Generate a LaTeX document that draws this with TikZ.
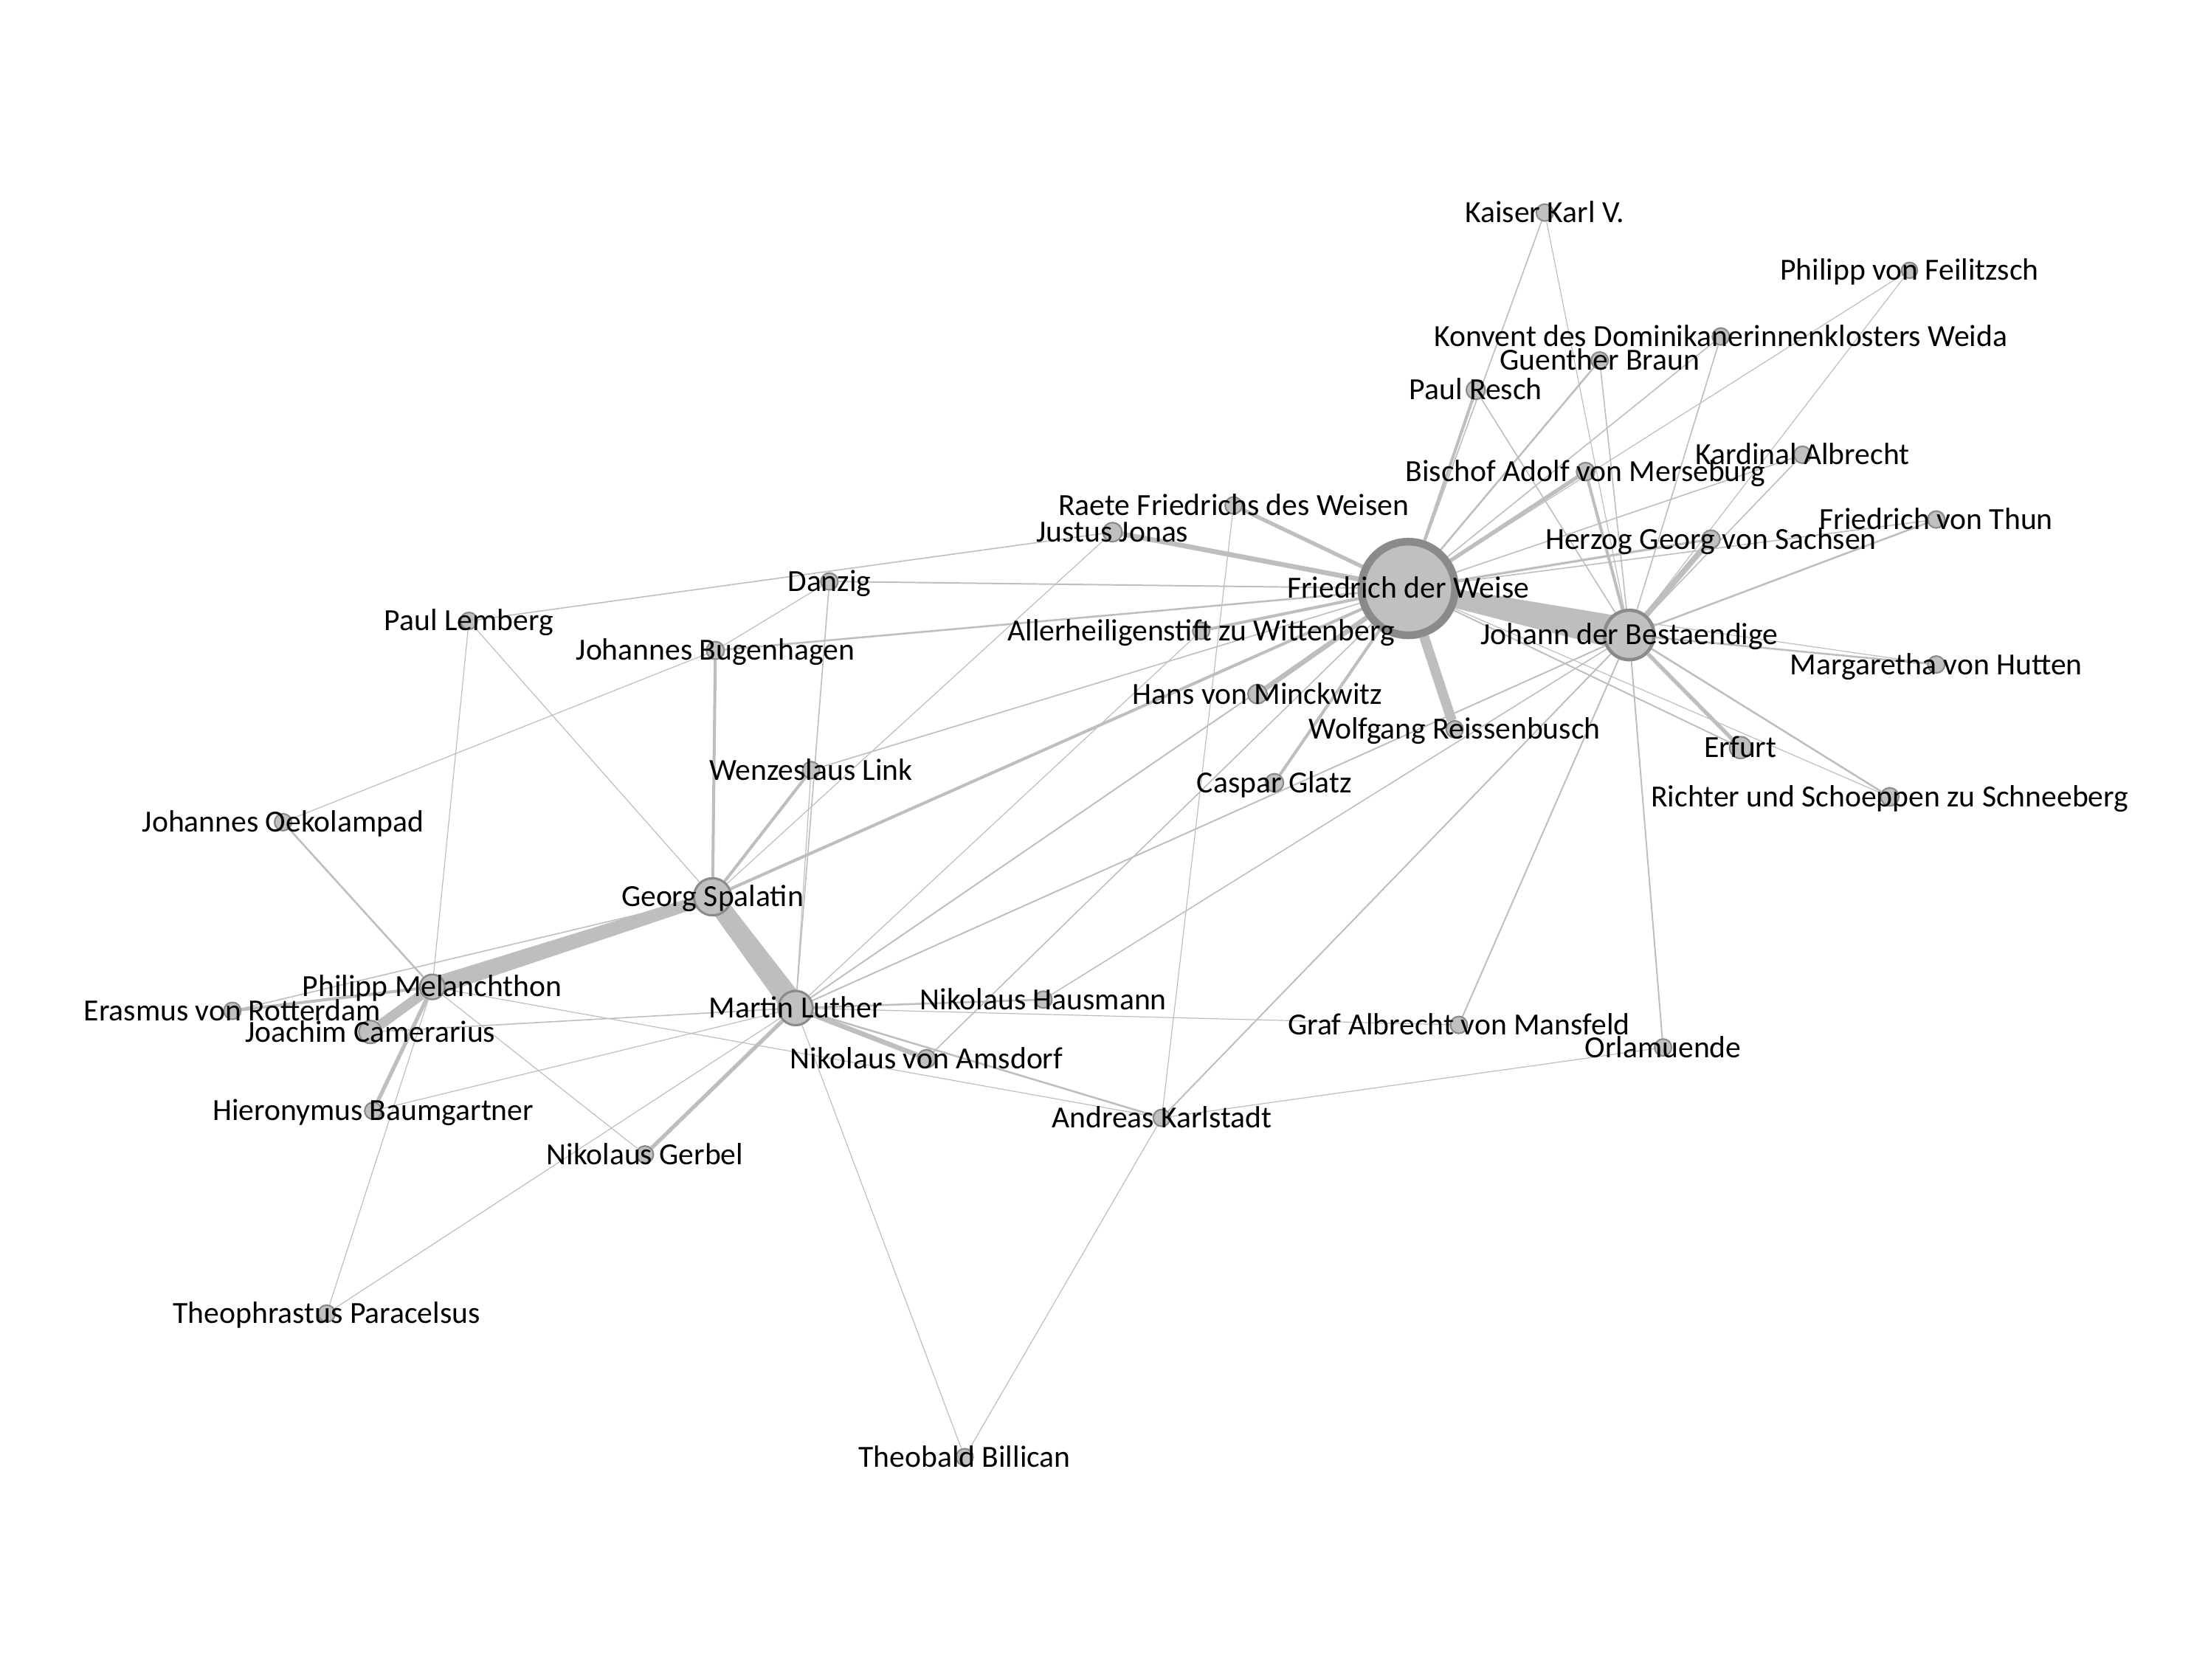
\documentclass[tikz,border=0pt]{standalone}
\usepackage{fontspec}
\setmainfont{Carlito}
\usepackage{tikz}
\usetikzlibrary{calc,backgrounds}
\definecolor{netedge}{RGB}{190,190,190}
\definecolor{netfill}{RGB}{192,192,192}
\definecolor{netrim}{RGB}{138,138,138}
\tikzstyle{person} = [circle, fill=netfill, draw=netrim, line width=0.6pt, minimum size=2.3mm, inner sep=0pt]
\tikzstyle{hub} = [person, line width=1.3pt]
\tikzstyle{tag} = [inner sep=0pt, text height=7.6pt, text depth=0pt, font=\fontsize{11.85}{14}\selectfont]
\tikzstyle{tieA} = [draw=netedge, line width=0.34pt]
\tikzstyle{tieB} = [draw=netedge, line width=0.45pt]
\tikzstyle{tieC} = [draw=netedge, line width=0.56pt]
\tikzstyle{tieD} = [draw=netedge, line width=0.72pt]
\tikzstyle{tieE} = [draw=netedge, line width=0.9pt]
\tikzstyle{tieF} = [draw=netedge, line width=1.15pt]
\tikzstyle{tieG} = [draw=netedge, line width=1.5pt]
\tikzstyle{tieH} = [draw=netedge, line width=1.9pt]
\tikzstyle{tieI} = [draw=netedge, line width=2.2pt]
\tikzstyle{tieJ} = [draw=netedge, line width=3.8pt]
% tapered heavy tie: from, to, half width at from, half width at to
\newcommand{\taper}[4]{\fill[netedge] ($(#1)!#3!90:(#2)$) -- ($(#1)!#3!-90:(#2)$) -- ($(#2)!#4!90:(#1)$) -- ($(#2)!#4!-90:(#1)$) -- cycle;}

\begin{document}
\begin{tikzpicture}[x=0.019082cm, y=-0.019082cm]
\useasboundingbox (0,0) rectangle (1568,1193);

% Hubs
\node[hub, minimum size=12.69mm, line width=2.98pt] (fdw) at (1000,418) {};
\node[hub, minimum size=6.71mm] (jdb) at (1157,451) {};
\node[hub, minimum size=5.04mm, line width=0.87pt] (gs) at (506,637) {};
\node[hub, minimum size=4.66mm, line width=0.87pt] (ml) at (565,716) {};
\node[hub, minimum size=3.38mm, line width=0.7pt] (pm) at (307,701) {};

% Correspondents
\node[person] (kaiser) at (1097,151) {};
\node[person, minimum size=2.15mm] (feilitzsch) at (1356,192) {};
\node[person] (konvent) at (1222,239) {};
\node[person] (braun) at (1136,256) {};
\node[person, minimum size=2.55mm] (resch) at (1048,277) {};
\node[person, minimum size=2.45mm] (adolf) at (1126,335) {};
\node[person] (kardinal) at (1280,323) {};
\node[person] (raete) at (876,359) {};
\node[person, minimum size=2.6mm] (justus) at (790,378) {};
\node[person] (thun) at (1375,369) {};
\node[person, minimum size=2.45mm] (herzog) at (1215,383) {};
\node[person] (danzig) at (589,413) {};
\node[person] (lemberg) at (333,441) {};
\node[person, minimum size=2.4mm] (bugenhagen) at (508,462) {};
\node[person] (alh) at (853,448) {};
\node[person] (margaretha) at (1375,472) {};
\node[person, minimum size=2.6mm] (minckwitz) at (893,493) {};
\node[person] (reissenbusch) at (1033,518) {};
\node[person, minimum size=2.95mm] (erfurt) at (1236,531) {};
\node[person] (link) at (576,547) {};
\node[person, minimum size=2.45mm] (glatz) at (905,556) {};
\node[person, minimum size=2.45mm] (richter) at (1342,566) {};
\node[person] (oekolampad) at (201,584) {};
\node[person] (erasmus) at (165,718) {};
\node[person, minimum size=3.1mm] (camerarius) at (263,733) {};
\node[person] (hausmann) at (741,710) {};
\node[person] (mansfeld) at (1036,728) {};
\node[person, minimum size=2.45mm] (amsdorf) at (658,752) {};
\node[person] (orlamuende) at (1181,744) {};
\node[person] (baumgartner) at (265,789) {};
\node[person] (karlstadt) at (825,794) {};
\node[person] (gerbel) at (458,820) {};
\node[person] (paracelsus) at (232,933) {};
\node[person] (billican) at (685,1035) {};

% Names on top
\foreach \who/\txt in {fdw/Friedrich der Weise, jdb/Johann der Bestaendige, gs/Georg Spalatin,
  ml/Martin Luther, pm/Philipp Melanchthon, kaiser/Kaiser Karl V., feilitzsch/Philipp von Feilitzsch,
  konvent/Konvent des Dominikanerinnenklosters Weida, braun/Guenther Braun, resch/Paul Resch,
  adolf/Bischof Adolf von Merseburg, kardinal/Kardinal Albrecht, raete/Raete Friedrichs des Weisen,
  justus/Justus Jonas, thun/Friedrich von Thun, herzog/Herzog Georg von Sachsen, danzig/Danzig,
  lemberg/Paul Lemberg, bugenhagen/Johannes Bugenhagen, alh/Allerheiligenstift zu Wittenberg,
  margaretha/Margaretha von Hutten, minckwitz/Hans von Minckwitz, reissenbusch/Wolfgang Reissenbusch,
  erfurt/Erfurt, link/Wenzeslaus Link, glatz/Caspar Glatz, richter/Richter und Schoeppen zu Schneeberg,
  oekolampad/Johannes Oekolampad, erasmus/Erasmus von Rotterdam, camerarius/Joachim Camerarius,
  hausmann/Nikolaus Hausmann, mansfeld/Graf Albrecht von Mansfeld, amsdorf/Nikolaus von Amsdorf,
  orlamuende/Orlamuende, baumgartner/Hieronymus Baumgartner, karlstadt/Andreas Karlstadt,
  gerbel/Nikolaus Gerbel, paracelsus/Theophrastus Paracelsus, billican/Theobald Billican}
  \node[tag] (\who-tag) at (\who) {\txt};

% Ties
\begin{scope}[on background layer]
\fill[white] (0,0) rectangle (1568,1193);
\taper{fdw}{jdb}{1.0mm}{2.3mm}
\taper{gs}{ml}{1.25mm}{1.61mm}
\taper{gs}{pm}{0.76mm}{1.24mm}

\draw[tieB] (fdw) -- (kaiser);
\draw[tieA] (jdb) -- (kaiser);
\draw[tieA] (fdw) -- (feilitzsch);
\draw[tieA] (jdb) -- (feilitzsch);
\draw[tieB] (fdw) -- (konvent);
\draw[tieB] (jdb) -- (konvent);
\draw[tieD] (fdw) -- (braun);
\draw[tieB] (jdb) -- (braun);
\draw[tieF] (fdw) -- (resch);
\draw[tieB] (jdb) -- (resch);
\draw[tieG] (fdw) -- (adolf);
\draw[tieF] (jdb) -- (adolf);
\draw[tieB] (fdw) -- (kardinal);
\draw[tieB] (jdb) -- (kardinal);
\draw[tieB] (fdw) -- (thun);
\draw[tieD] (jdb) -- (thun);
\draw[tieE] (fdw) -- (herzog);
\draw[tieI] (jdb) -- (herzog);
\draw[tieA] (fdw) -- (margaretha);
\draw[tieD] (jdb) -- (margaretha);
\draw[tieC] (fdw) -- (erfurt);
\draw[tieG] (jdb) -- (erfurt);
\draw[tieA] (fdw) -- (richter);
\draw[tieD] (jdb) -- (richter);
\draw[tieJ] (fdw) -- (reissenbusch);
\draw[tieF] (fdw) -- (glatz);
\draw[tieH] (fdw) -- (minckwitz);
\draw[tieF] (fdw) -- (alh);
\draw[tieG] (fdw) -- (raete);
\draw[tieH] (fdw) -- (justus);
\draw[tieC] (fdw) -- (danzig);
\draw[tieD] (fdw) -- (bugenhagen);
\draw[tieB] (fdw) -- (link);
\draw[tieF] (fdw) -- (gs);
\draw[tieC] (fdw) -- (ml);
\draw[tieB] (fdw) -- (amsdorf);
\draw[tieC] (jdb) -- (ml);
\draw[tieB] (jdb) -- (hausmann);
\draw[tieC] (jdb) -- (karlstadt);
\draw[tieC] (jdb) -- (mansfeld);
\draw[tieC] (jdb) -- (orlamuende);

\draw[tieF] (gs) -- (bugenhagen);
\draw[tieF] (gs) -- (link);
\draw[tieA] (gs) -- (lemberg);
\draw[tieB] (gs) -- (erasmus);
\draw[tieA] (gs) -- (justus);

\draw[tieB] (ml) -- (danzig);
\draw[tieA] (ml) -- (link);
\draw[tieA] (ml) -- (alh);
\draw[tieD] (ml) -- (hausmann);
\draw[tieA] (ml) -- (mansfeld);
\draw[tieH] (ml) -- (amsdorf);
\draw[tieD] (ml) -- (karlstadt);
\draw[tieA] (ml) -- (billican);
\draw[tieG] (ml) -- (gerbel);
\draw[tieA] (ml) -- (paracelsus);
\draw[tieA] (ml) -- (baumgartner);
\draw[tieB] (ml) -- (camerarius);

\draw[tieJ] (pm) -- (camerarius);
\draw[tieF] (pm) -- (erasmus);
\draw[tieG] (pm) -- (baumgartner);
\draw[tieD] (pm) -- (oekolampad);
\draw[tieA] (pm) -- (lemberg);
\draw[tieA] (pm) -- (paracelsus);
\draw[tieA] (pm) -- (gerbel);
\draw[tieA] (pm) -- (karlstadt);

\draw[tieA] (karlstadt) -- (raete);
\draw[tieA] (karlstadt) -- (billican);
\draw[tieA] (karlstadt) -- (orlamuende);
\draw[tieA] (bugenhagen) -- (danzig);
\draw[tieA] (bugenhagen) -- (oekolampad);
\draw[tieB] (justus) -- (lemberg);
\end{scope}
\end{tikzpicture}
\end{document}
